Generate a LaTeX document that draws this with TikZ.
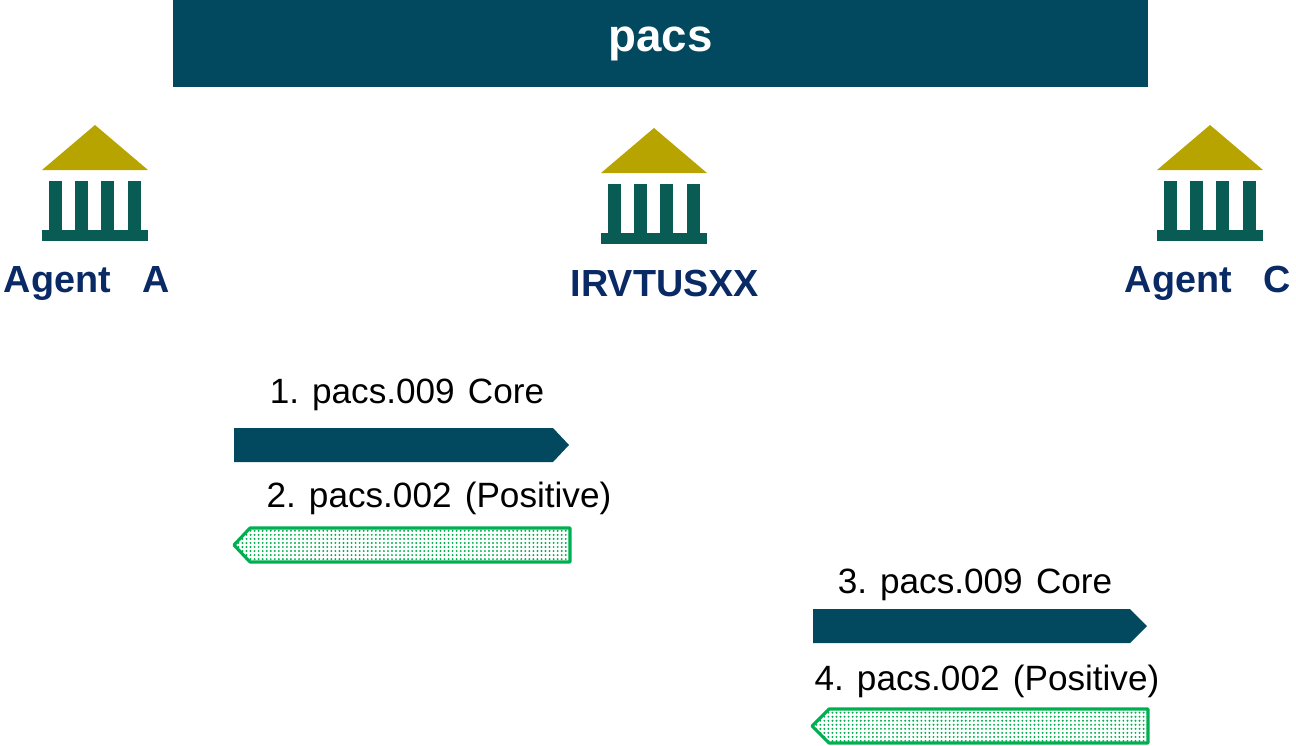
\documentclass[tikz,border=0pt]{standalone}
\usepackage{fontspec}
\setmainfont{Liberation Sans}
\usetikzlibrary{patterns.meta}
\definecolor{pacsblue}{HTML}{02495F}
\definecolor{roofgold}{HTML}{B8A400}
\definecolor{pillargreen}{HTML}{085C54}
\definecolor{agentblue}{HTML}{0A2A66}
\definecolor{ackgreen}{HTML}{00B050}
\tikzset{
    banner/.style={fill=pacsblue, draw=none, text=white, font=\bfseries\fontsize{26}{30}\selectfont},
    agent/.style={text=agentblue, inner sep=0pt, font=\bfseries\fontsize{21.5}{26}\selectfont},
    msg/.style={text=black, inner sep=0pt, font=\fontsize{20}{24}\selectfont},
    request/.style={fill=pacsblue},
    response/.style={draw=ackgreen, line width=1.8pt, line join=round, pattern={Dots[distance=2.3pt, radius=0.62pt]}, pattern color=ackgreen},
    bank/.pic={
        \fill[roofgold] (-53,-1) -- (0,-46) -- (53,-1) -- cycle;
        \fill[pillargreen] (-53,59) rectangle (53,70);
        \foreach \x in {-46,-20,6,33} {
            \fill[pillargreen] (\x,10) rectangle (\x+13,60);
        }
    }
}
\begin{document}
\begin{tikzpicture}[x=0.02cm, y=-0.02cm]
    \useasboundingbox (0,0) rectangle (1296,745);

    \node[banner, minimum width=975*0.02cm, minimum height=87*0.02cm, inner sep=0pt] (pacs) at (660.5,43.5) {pacs};

    \pic at (95,171) {bank};
    \pic at (654,174) {bank};
    \pic at (1210,171) {bank};

    \node[agent] (agenta) at (87,283) {Agent\hspace{0.85em}A};
    \node[agent] (irvt) at (665,283) {IRVTUSXX};
    \node[agent] (agentc) at (1208,283) {Agent\hspace{0.85em}C};

    \node[msg] (msga) at (407,395) {1. pacs.009\hspace{0.1em} Core};
    \node[msg] (msgb) at (439,498) {2. pacs.002\hspace{0.1em} (Positive)};
    \node[msg] (msgc) at (975,585) {3. pacs.009\hspace{0.1em} Core};
    \node[msg] (msgd) at (987,681) {4. pacs.002\hspace{0.1em} (Positive)};

    \fill[request] (234,428) -- (553,428) -- (569,445) -- (553,462) -- (234,462) -- cycle;
    \draw[response] (570,528) -- (250,528) -- (234,545) -- (250,562) -- (570,562) -- cycle;
    \fill[request] (813,609) -- (1130,609) -- (1147,626) -- (1130,643) -- (813,643) -- cycle;
    \draw[response] (1148,709) -- (829,709) -- (812,726) -- (829,743) -- (1148,743) -- cycle;
\end{tikzpicture}
\end{document}
